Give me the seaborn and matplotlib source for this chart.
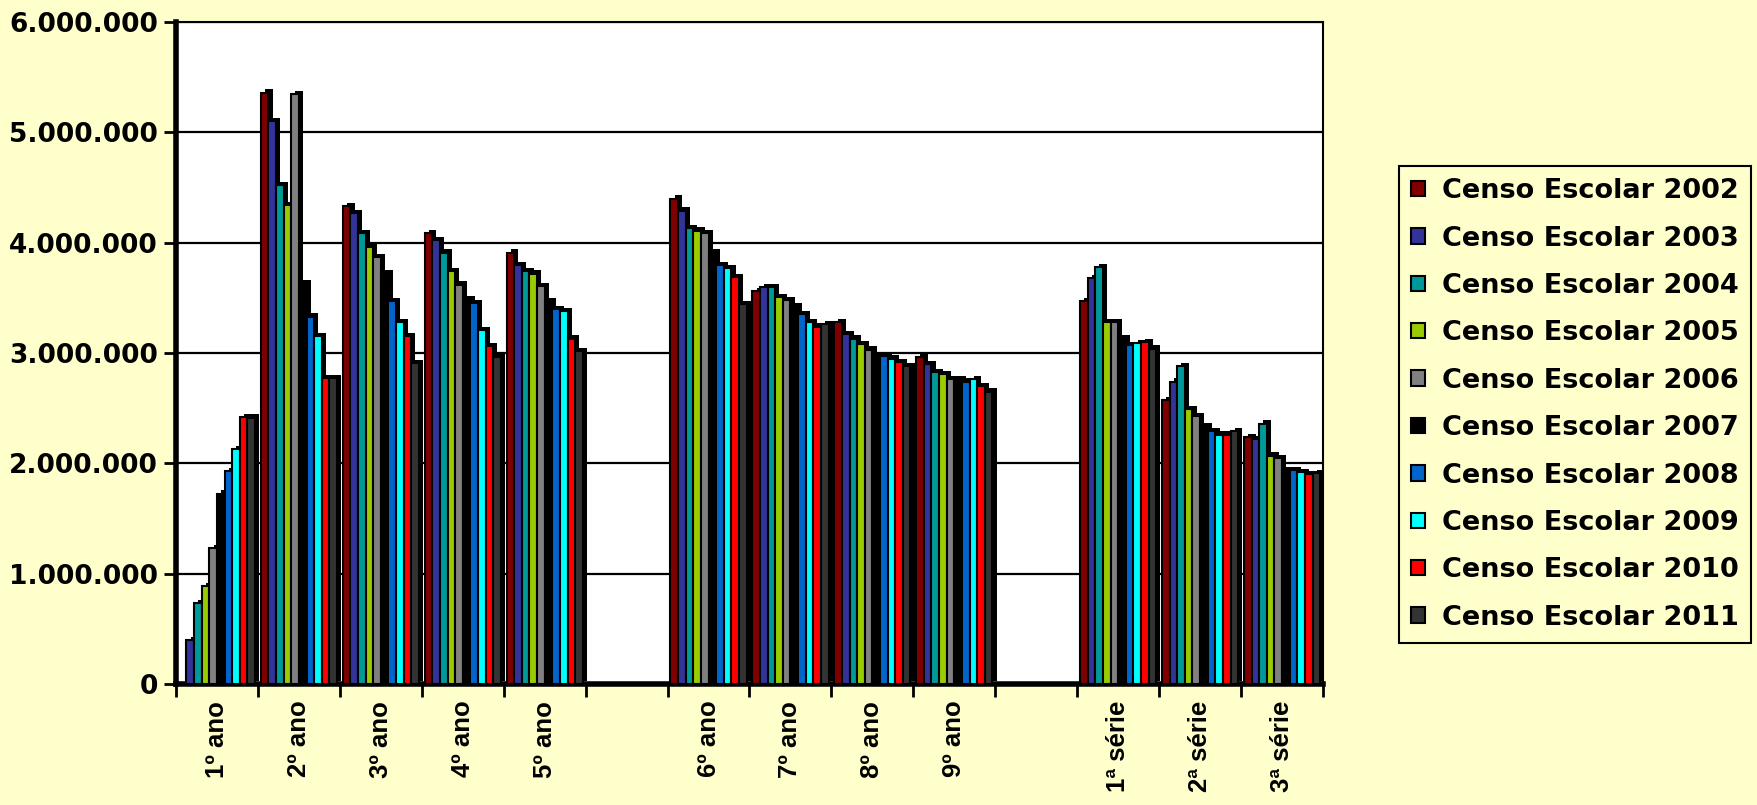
import numpy as np
import pandas as pd
import seaborn as sns
import matplotlib
matplotlib.use("Agg")
import matplotlib.pyplot as plt
import matplotlib.patheffects as pe
from matplotlib.patches import Patch
from matplotlib.ticker import FuncFormatter, FixedLocator

categories = ["1º ano", "2º ano", "3º ano", "4º ano", "5º ano", " ",
              "6º ano", "7º ano", "8º ano", "9º ano", "  ",
              "1ª série", "2ª série", "3ª série"]
series = ["Censo Escolar 2002", "Censo Escolar 2003", "Censo Escolar 2004",
          "Censo Escolar 2005", "Censo Escolar 2006", "Censo Escolar 2007",
          "Censo Escolar 2008", "Censo Escolar 2009", "Censo Escolar 2010",
          "Censo Escolar 2011"]
colors = ["#800000", "#333399", "#009999", "#99CC00", "#808080",
          "#000000", "#0066CC", "#00FFFF", "#FF0000", "#333333"]

# values per category (in order of series 2002..2011)
v_1ano = [0, 400000, 735000, 890000, 1230000, 1725000, 1930000, 2130000, 2420000, 2415000]
v_2ano = [5360000, 5100000, 4525000, 4340000, 5350000, 3630000, 3330000, 3150000, 2770000, 2770000]
v_3ano = [4335000, 4270000, 4090000, 3960000, 3870000, 3720000, 3470000, 3280000, 3150000, 2910000]
v_4ano = [4090000, 4020000, 3910000, 3740000, 3620000, 3490000, 3450000, 3210000, 3060000, 2960000]
v_5ano = [3910000, 3800000, 3740000, 3720000, 3610000, 3470000, 3400000, 3380000, 3130000, 3020000]
v_gap1 = [0] * 10
v_6ano = [4400000, 4290000, 4130000, 4110000, 4090000, 3910000, 3800000, 3770000, 3690000, 3440000]
v_7ano = [3560000, 3600000, 3600000, 3510000, 3480000, 3420000, 3350000, 3280000, 3240000, 3260000]
v_8ano = [3280000, 3170000, 3130000, 3080000, 3030000, 2980000, 2970000, 2950000, 2920000, 2880000]
v_9ano = [2965000, 2900000, 2830000, 2810000, 2760000, 2760000, 2740000, 2760000, 2700000, 2650000]
v_gap2 = [0] * 10
v_1serie = [3470000, 3680000, 3780000, 3280000, 3280000, 3130000, 3070000, 3090000, 3100000, 3040000]
v_2serie = [2570000, 2740000, 2880000, 2490000, 2430000, 2340000, 2290000, 2260000, 2260000, 2290000]
v_3serie = [2240000, 2220000, 2360000, 2070000, 2050000, 1940000, 1940000, 1920000, 1900000, 1915000]

all_vals = [v_1ano, v_2ano, v_3ano, v_4ano, v_5ano, v_gap1, v_6ano, v_7ano,
            v_8ano, v_9ano, v_gap2, v_1serie, v_2serie, v_3serie]

rows = []
for cat, vals in zip(categories, all_vals):
    for s, v in zip(series, vals):
        rows.append({"cat": cat, "serie": s, "valor": v})
df = pd.DataFrame(rows)

BG = "#FFFFCC"
sns.set_theme(style="white")
plt.rcParams["font.family"] = ["Liberation Sans", "DejaVu Sans"]
plt.rcParams["text.color"] = "black"
plt.rcParams["xtick.color"] = "black"
plt.rcParams["ytick.color"] = "black"
plt.rcParams["axes.labelcolor"] = "black"

fig = plt.figure(figsize=(17.58, 8.05), dpi=100, facecolor=BG)
ax = fig.add_axes([176 / 1758, 1 - 684 / 805, (1323 - 176) / 1758, (684 - 22) / 805])
ax.set_facecolor("white")

sns.barplot(data=df, x="cat", y="valor", hue="serie", order=categories,
            hue_order=series, palette=colors, width=0.93, gap=0,
            edgecolor="black", linewidth=1.5, saturation=1, ax=ax,
            legend=False, zorder=3)

shadow = [pe.SimplePatchShadow(offset=(3.0, 2.3), shadow_rgbFace="black", alpha=1.0),
          pe.Normal()]
for p in ax.patches:
    if p.get_height() > 0:
        p.set_path_effects(shadow)
    else:
        p.set_visible(False)

ax.set_ylim(0, 6000000)
ax.set_xlim(-0.5, len(categories) - 0.5)
ax.set_yticks(np.arange(0, 6000001, 1000000))
ax.yaxis.set_major_formatter(FuncFormatter(lambda v, p: f"{int(v):,}".replace(",", ".")))
ax.grid(axis="y", color="black", linewidth=1.6, zorder=1)
ax.set_axisbelow(True)

ax.set_xlabel("")
ax.set_ylabel("")

# ticks
ax.xaxis.set_minor_locator(FixedLocator(np.arange(-0.5, len(categories), 1)))
ax.tick_params(axis="x", which="major", length=0, pad=12)
ax.tick_params(axis="x", which="minor", length=9, width=2, color="black", direction="out", bottom=True)
ax.tick_params(axis="y", which="major", length=9, width=2, color="black", direction="out", left=True, pad=4)
for lab in ax.get_xticklabels():
    lab.set_rotation(90)
    lab.set_fontsize(18.5)
    lab.set_fontweight("bold")
    lab.set_va("top")
    lab.set_ha("center")
    lab.set_color("black")
for lab in ax.get_yticklabels():
    lab.set_fontsize(19)
    lab.set_fontweight("bold")
    lab.set_family(["DejaVu Sans"])
    lab.set_color("black")

for side in ["left", "bottom"]:
    ax.spines[side].set_linewidth(4)
    ax.spines[side].set_color("black")
for side in ["top", "right"]:
    ax.spines[side].set_linewidth(1.5)
    ax.spines[side].set_color("black")
    ax.spines[side].set_visible(True)

handles = [Patch(facecolor=c, edgecolor="black", linewidth=1.5, label=s)
           for s, c in zip(series, colors)]
leg = ax.legend(handles=handles, loc="upper left",
                bbox_to_anchor=(1399 / 1758, 1 - 166 / 805),
                bbox_transform=fig.transFigure, frameon=True, fancybox=False,
                facecolor=BG, edgecolor="black", framealpha=1,
                prop={"family": "DejaVu Sans", "weight": "bold", "size": 19.5},
                handlelength=0.5, handleheight=0.5, handletextpad=0.65,
                labelspacing=0.79, borderpad=0.45, borderaxespad=0)
leg.get_frame().set_linewidth(1.5)
for t in leg.get_texts():
    t.set_color("black")

fig.savefig("out.png", dpi=100, facecolor=BG)
